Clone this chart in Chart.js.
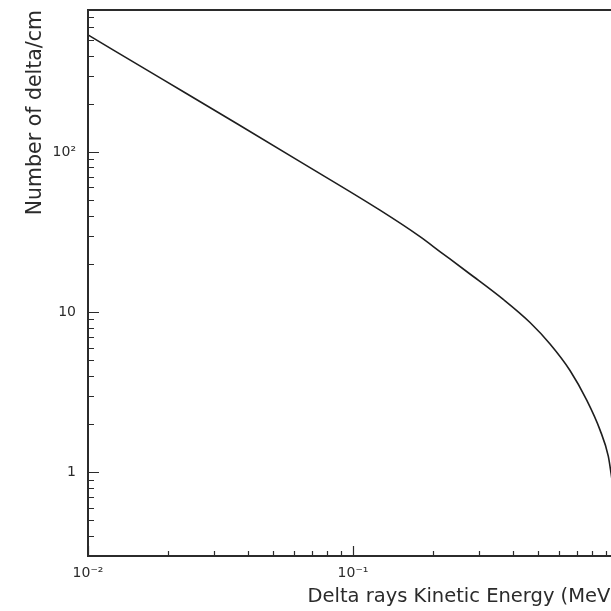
<!DOCTYPE html>
<html>
<head>
<meta charset="utf-8">
<script src="https://cdn.jsdelivr.net/npm/chart.js@4/dist/chart.umd.min.js"></script>
<style>
  html, body { margin: 0; padding: 0; background: #fff; overflow: hidden; }
  #wrap { width: 611px; height: 611px; overflow: hidden; }
</style>
</head>
<body>
<div id="wrap"><canvas id="deltaChart" width="640" height="611"></canvas></div>
<script>
// ================= DATA =================
const energy = [0.01, 0.0192, 0.0368, 0.0631, 0.1264, 0.179, 0.2128, 0.2763, 0.369, 0.4656, 0.554, 0.659, 0.762, 0.855, 0.919, 0.941, 0.96];
const deltas = [538, 283, 149, 87.0, 43.3, 29.6, 23.9, 17.3, 12.0, 8.61, 6.32, 4.32, 2.82, 1.84, 1.26, 0.99, 0.78];

const xTickValues = [0.01, 0.1, 1];
const xTickLabels = ["10\u207B\u00B2", "10\u207B\u00B9", "1"];
const yTickValues = [1, 10, 100];
const yTickLabels = ["1", "10", "10\u00B2"];

const xTitle = "Delta rays Kinetic Energy (MeV)";
const yTitle = "Number of delta/cm";

// ================= HELPERS =================
function logSteps(min, max) {
  const out = [];
  for (let d = Math.floor(Math.log10(min)); d <= Math.ceil(Math.log10(max)); d++) {
    for (let m = 1; m <= 9; m++) {
      const v = m * Math.pow(10, d);
      if (v >= min * 0.999 && v <= max * 1.001) out.push(v);
    }
  }
  return out;
}

const ink = "#2b2b2b";
Chart.defaults.font.family = "'DejaVu Sans', sans-serif";
Chart.defaults.color = ink;

// ticks drawn inside the frame, ROOT style
const innerTicks = {
  id: "innerTicks",
  afterDatasetsDraw(chart) {
    const { ctx, chartArea: a, scales: { x, y } } = chart;
    ctx.save();
    ctx.strokeStyle = ink;
    ctx.lineWidth = 1.2;
    ctx.beginPath();
    logSteps(x.min, x.max).forEach(v => {
      const px = Math.round(x.getPixelForValue(v)) + 0.5;
      const len = xTickValues.includes(v) ? 10 : 5;
      ctx.moveTo(px, a.bottom);
      ctx.lineTo(px, a.bottom - len);
    });
    logSteps(y.min, y.max).forEach(v => {
      const py = Math.round(y.getPixelForValue(v)) + 0.5;
      const len = yTickValues.includes(Math.round(v * 1000) / 1000) ? 11 : 6;
      ctx.moveTo(a.left, py);
      ctx.lineTo(a.left + len, py);
    });
    ctx.stroke();
    ctx.lineWidth = 2;
    ctx.strokeRect(a.left, a.top, a.right - a.left, a.bottom - a.top);
    ctx.restore();
  }
};

// ================= CHART =================
new Chart(document.getElementById("deltaChart"), {
  type: "line",
  data: {
    datasets: [{
      data: energy.map((e, i) => ({ x: e, y: deltas[i] })),
      borderColor: "#1e1e1e",
      borderWidth: 1.6,
      pointRadius: 0,
      cubicInterpolationMode: "monotone",
      fill: false
    }]
  },
  options: {
    responsive: false,
    animation: false,
    layout: { padding: { top: 10, right: 22, left: 0, bottom: 0 } },
    plugins: { legend: { display: false }, tooltip: { enabled: false } },
    scales: {
      x: {
        type: "logarithmic",
        min: 0.01,
        max: 1,
        grid: { display: false, drawTicks: false },
        border: { display: false },
        afterBuildTicks: s => { s.ticks = xTickValues.map(v => ({ value: v })); },
        afterFit: s => { s.height = 55; s.paddingLeft = 0; s.paddingRight = 0; },
        ticks: {
          padding: 9,
          autoSkip: false,
          maxRotation: 0,
          font: { size: 14 },
          callback: v => xTickLabels[xTickValues.indexOf(v)] ?? ""
        },
        title: {
          display: true,
          text: xTitle,
          align: "end",
          font: { size: 19.5 },
          padding: { top: 0, bottom: 2 }
        }
      },
      y: {
        type: "logarithmic",
        min: 0.32,
        max: 770,
        grid: { display: false, drawTicks: false },
        border: { display: false },
        afterBuildTicks: s => { s.ticks = yTickValues.map(v => ({ value: v })); },
        afterFit: s => { s.width = 88; s.paddingTop = 0; s.paddingBottom = 0; },
        ticks: {
          padding: 12,
          autoSkip: false,
          font: { size: 14 },
          callback: v => yTickLabels[yTickValues.indexOf(v)] ?? ""
        },
        title: {
          display: true,
          text: yTitle,
          align: "end",
          font: { size: 20.5 },
          padding: { top: 23, bottom: 0 }
        }
      }
    }
  },
  plugins: [innerTicks]
});
</script>
</body>
</html>
